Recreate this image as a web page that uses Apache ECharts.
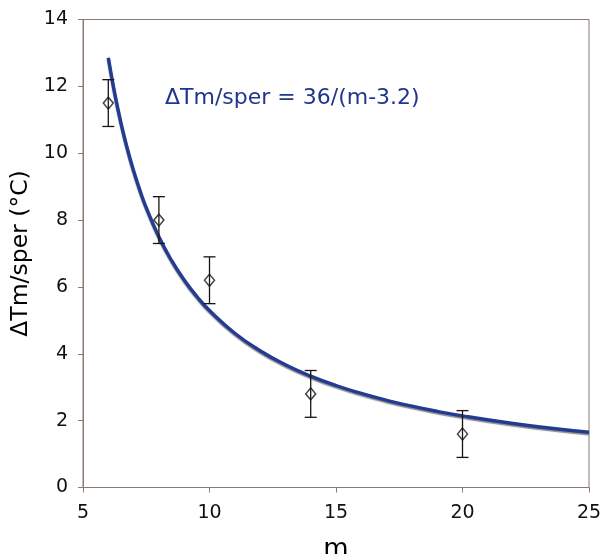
<!DOCTYPE html>
<html><head><meta charset="utf-8">
<script src="https://cdn.jsdelivr.net/npm/echarts@6/dist/echarts.min.js"></script>
<style>html,body{margin:0;padding:0;background:#fff}#c{width:604px;height:554px}</style>
</head><body><div id="c"></div>
<script>
var mValues = [6, 8, 10, 14, 20];
var tmValues = [11.5, 8.0, 6.2, 2.8, 1.6];
var errValues = [0.7, 0.7, 0.7, 0.7, 0.7];
var fitM = [6, 6.25, 6.5, 6.75, 7, 7.25, 7.5, 8, 8.5, 9, 9.5, 10, 11, 12, 13, 14, 15, 16, 17, 18, 19, 20, 22, 23.5, 25];
var fitTm = [12.857, 11.803, 10.909, 10.141, 9.474, 8.889, 8.372, 7.5, 6.792, 6.207, 5.714, 5.294, 4.615, 4.091, 3.673, 3.333, 3.051, 2.813, 2.609, 2.432, 2.278, 2.143, 1.915, 1.773, 1.651];
var xTicks = [5, 10, 15, 20, 25];
var yTicks = [0, 2, 4, 6, 8, 10, 12, 14];
var labelText = 'ΔTm/sper = 36/(m-3.2)';

var chart = echarts.init(document.getElementById('c'));
var axisColor = '#8a7b72';
var font = 'DejaVu Sans, Verdana, sans-serif';
chart.setOption({
  animation: false,
  grid: {left: 83, right: 15, top: 19.5, bottom: 66.5, show: true, borderColor: axisColor, borderWidth: 1, containLabel: false, outerBoundsMode: 'none'},
  xAxis: {
    type: 'value', min: xTicks[0], max: xTicks[xTicks.length-1], interval: 5,
    name: 'm', nameLocation: 'middle', nameGap: 50,
    nameTextStyle: {fontFamily: font, fontSize: 26, color: '#000'},
    axisLine: {lineStyle: {color: axisColor}},
    axisTick: {inside: false, length: 5, lineStyle: {color: axisColor}},
    axisLabel: {fontFamily: font, fontSize: 19, color: '#111', margin: 16},
    splitLine: {show: false}
  },
  yAxis: {
    type: 'value', min: yTicks[0], max: yTicks[yTicks.length-1], interval: 2,
    name: 'ΔTm/sper (°C)', nameLocation: 'middle', nameGap: 48, nameRotate: 90,
    nameTextStyle: {fontFamily: font, fontSize: 23.5, color: '#000'},
    axisLine: {lineStyle: {color: axisColor}},
    axisTick: {inside: false, length: 5, lineStyle: {color: axisColor}},
    axisLabel: {fontFamily: font, fontSize: 19, color: '#111', margin: 15},
    splitLine: {show: false}
  },
  graphic: [{
    type: 'text', left: 165, top: 87,
    style: {text: labelText, fontFamily: font, fontSize: 22, fill: '#1f3590'}
  }],
  series: [
    {
      type: 'custom', z: 3,
      data: mValues.map(function (m, i) { return [m, tmValues[i] - errValues[i], tmValues[i] + errValues[i]]; }),
      renderItem: function (params, api) {
        var lo = api.coord([api.value(0), api.value(1)]);
        var hi = api.coord([api.value(0), api.value(2)]);
        var w = 6;
        var st = {stroke: '#1a1410', lineWidth: 1.3};
        return {type: 'group', children: [
          {type: 'line', shape: {x1: lo[0], y1: lo[1], x2: hi[0], y2: hi[1]}, style: st},
          {type: 'line', shape: {x1: lo[0]-w, y1: lo[1], x2: lo[0]+w, y2: lo[1]}, style: st},
          {type: 'line', shape: {x1: hi[0]-w, y1: hi[1], x2: hi[0]+w, y2: hi[1]}, style: st}
        ]};
      }
    },
    {
      type: 'line', z: 2, smooth: true, showSymbol: false,
      data: fitM.map(function (m, i) { return [m, fitTm[i]]; }),
      lineStyle: {color: '#233c92', width: 3.4, shadowColor: 'rgba(90,90,90,0.7)', shadowOffsetY: 1.5, shadowBlur: 1}
    },
    {
      type: 'scatter', z: 4, symbol: 'diamond', symbolSize: [10, 12],
      data: mValues.map(function (m, i) { return [m, tmValues[i]]; }),
      itemStyle: {color: 'rgba(255,255,255,0)', borderColor: '#1a1410', borderWidth: 1.5}
    }
  ]
});
</script></body></html>
